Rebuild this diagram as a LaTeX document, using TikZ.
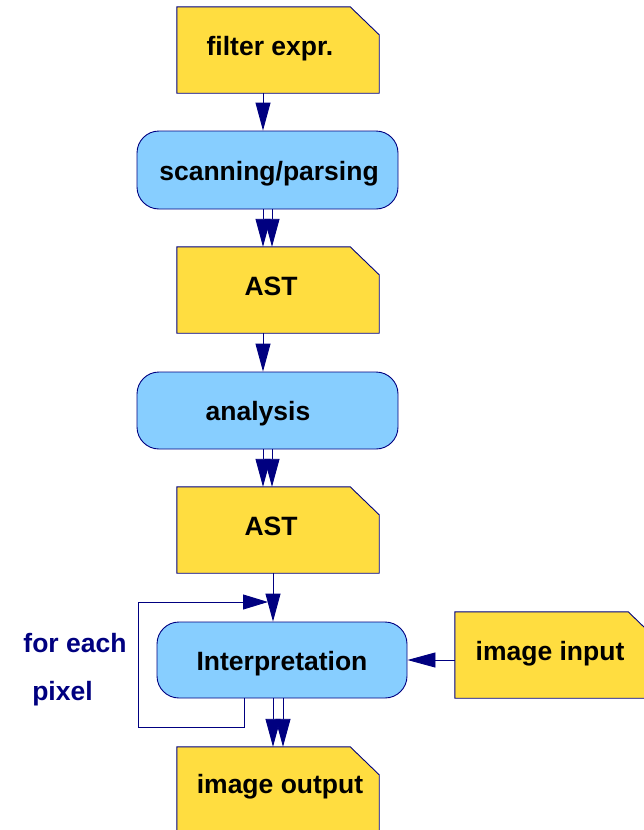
\documentclass[tikz,border=0pt]{standalone}
\usepackage{fontspec}
\setmainfont{Liberation Sans}
\usetikzlibrary{arrows.meta}
\definecolor{navyc}{RGB}{0,0,128}
\definecolor{docyellow}{RGB}{255,221,64}
\definecolor{procblue}{RGB}{135,206,255}
\tikzset{
  boxarea/.style={rectangle, inner sep=0pt},
  docbox/.style={fill=docyellow, draw=navyc, line width=0.9pt},
  procbox/.style={rectangle, rounded corners=22pt, fill=procblue, draw=navyc, line width=0.9pt, inner sep=0pt},
  lbl/.style={font=\bfseries\fontsize{26.5}{30}\selectfont, anchor=base, inner sep=0pt},
  conn/.style={draw=navyc, line width=0.9pt, -{Triangle[length=28pt,width=15pt]}},
  loopconn/.style={draw=navyc, line width=0.9pt, -{Triangle[length=25pt,width=15pt]}},
}
\newcommand{\docshape}[1]{%
  \path[docbox] (#1.south west) -- (#1.south east) -- ([yshift=-28pt]#1.north east)
    -- ([xshift=-29pt]#1.north east) -- (#1.north west) -- cycle;}
\begin{document}
\begin{tikzpicture}[x=1pt,y=-1pt]
\useasboundingbox (0,0) rectangle (644,830);
% document areas
\node[boxarea, minimum width=202pt, minimum height=86pt] (f) at (278,50) {};
\node[boxarea, minimum width=202pt, minimum height=86pt] (a1) at (278,290) {};
\node[boxarea, minimum width=202pt, minimum height=86pt] (a2) at (278,530) {};
\node[boxarea, minimum width=202pt, minimum height=86pt] (io) at (278,790) {};
\node[boxarea, minimum width=202pt, minimum height=86pt] (ii) at (556,655) {};
\docshape{f}
\docshape{a1}
\docshape{a2}
\docshape{io}
\docshape{ii}
% process boxes
\node[procbox, minimum width=261pt, minimum height=78pt] (sp) at (267.5,170) {};
\node[procbox, minimum width=261pt, minimum height=77pt] (an) at (267.5,410.5) {};
\node[procbox, minimum width=250pt, minimum height=76pt] (ip) at (282,660) {};
% texts
\node[lbl] (ft) at (270,55) {filter expr.};
\node[lbl] (spt) at (269,180) {scanning/parsing};
\node[lbl] (a1t) at (271,295) {AST};
\node[lbl] (ant) at (258,420) {analysis};
\node[lbl] (a2t) at (271,535) {AST};
\node[lbl] (ipt) at (282,670) {Interpretation};
\node[lbl] (iit) at (550,660) {image input};
\node[lbl] (iot) at (280,793) {image output};
\node[lbl, text=navyc] (fe) at (75,652) {for each};
\node[lbl, text=navyc] (px) at (62.5,700) {pixel};
% connectors
\draw[conn] ([xshift=-15pt]f.south) -- ([xshift=-15pt]f.south |- sp.north);
\draw[conn] ([xshift=-4.5pt]sp.south) -- ([xshift=-4.5pt]sp.south |- a1.north);
\draw[conn] ([xshift=4.5pt]sp.south) -- ([xshift=4.5pt]sp.south |- a1.north);
\draw[conn] ([xshift=-15pt]a1.south) -- ([xshift=-15pt]a1.south |- an.north);
\draw[conn] ([xshift=-4.5pt]an.south) -- ([xshift=-4.5pt]an.south |- a2.north);
\draw[conn] ([xshift=4.5pt]an.south) -- ([xshift=4.5pt]an.south |- a2.north);
\draw[conn] ([xshift=-9pt]ip.north |- a2.south) -- ([xshift=-9pt]ip.north);
\coordinate (lp1) at (138,727);
\coordinate (lp2) at (268,602);
\draw[loopconn] ([xshift=-38pt]ip.south) |- (lp1) |- (lp2);
\draw[conn] ([xshift=-9pt]ip.south) -- ([xshift=-9pt]ip.south |- io.north);
\draw[conn] ([xshift=1pt]ip.south) -- ([xshift=1pt]ip.south |- io.north);
\draw[conn] (ip.east -| ii.west) -- (ip.east);
\end{tikzpicture}
\end{document}
